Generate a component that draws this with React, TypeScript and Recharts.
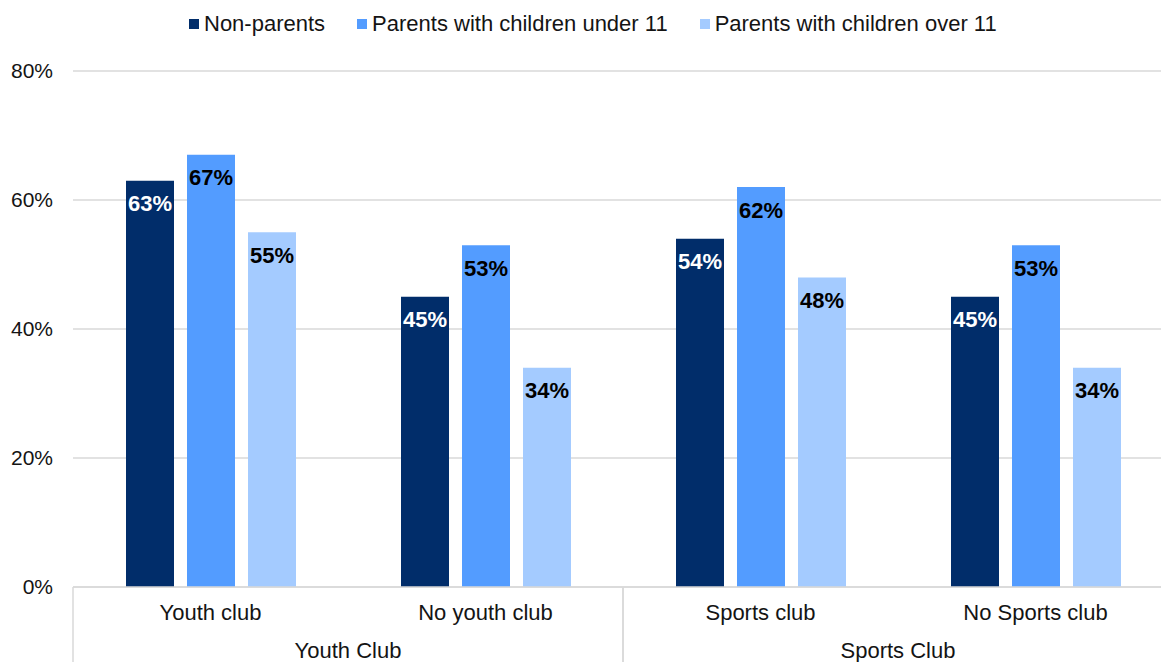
import React from 'react';
import { BarChart, Bar, XAxis, YAxis, CartesianGrid, Legend, LabelList } from 'recharts';

const categories = ['Youth club', 'No youth club', 'Sports club', 'No Sports club'];
const groups = ['Youth Club', 'Youth Club', 'Sports Club', 'Sports Club'];
const nonParents = [63, 45, 54, 45];
const under11 = [67, 53, 62, 53];
const over11 = [55, 34, 48, 34];
const yTicks = [0, 20, 40, 60, 80];

const series = [
    { key: 'nonParents', name: 'Non-parents', color: '#012D6A', labelColor: '#ffffff' },
    { key: 'under11', name: 'Parents with children under 11', color: '#539CFF', labelColor: '#000000' },
    { key: 'over11', name: 'Parents with children over 11', color: '#A4CBFF', labelColor: '#000000' },
];

const data = categories.map((name, i) => ({
    name,
    group: groups[i],
    nonParents: nonParents[i],
    under11: under11[i],
    over11: over11[i],
}));

// the plot runs a little past the right edge of the picture, as in the original
const VIEW_WIDTH = 1161;
const WIDTH = 1173;
const HEIGHT = 662;
const MARGIN = { top: 47, right: 0, bottom: 0, left: 1 };
const Y_WIDTH = 72;
const BAND = (WIDTH - MARGIN.left - MARGIN.right - Y_WIDTH) / categories.length;
const FONT = '"Liberation Sans", Arial, sans-serif';
const TEXT = '#141414';

const CategoryTick = (props: any) => {
    const { x, y, payload, index } = props;
    const left = x - BAND / 2;
    const right = x + BAND / 2;
    const top = y - 8;
    const isGroupStart = index === 0 || groups[index] !== groups[index - 1];
    const isGroupEnd = index === groups.length - 1 || groups[index] !== groups[index + 1];
    return (
        <g>
            <text x={x} y={y + 25} textAnchor="middle" fontSize={22} fill={TEXT} fontFamily={FONT}>
                {payload.value}
            </text>
            {isGroupStart && <line x1={left} y1={top} x2={left} y2={HEIGHT} stroke="#d9d9d9" strokeWidth={1.5} />}
            {isGroupEnd && <line x1={right} y1={top} x2={right} y2={HEIGHT} stroke="#d9d9d9" strokeWidth={1.5} />}
            {isGroupEnd && !isGroupStart && (
                <text x={left} y={y + 63} textAnchor="middle" fontSize={22} fill={TEXT} fontFamily={FONT}>
                    {groups[index]}
                </text>
            )}
        </g>
    );
};

const LegendContent = () => (
    <div style={{ display: 'flex', justifyContent: 'flex-start', paddingLeft: 173, fontFamily: FONT, fontSize: 22, color: TEXT, lineHeight: '24px' }}>
        {series.map((s) => (
            <div key={s.key} style={{ display: 'flex', alignItems: 'center', margin: '0 16px', whiteSpace: 'nowrap' }}>
                <span style={{ width: 10, height: 10, background: s.color, marginRight: 5, display: 'inline-block' }} />
                {s.name}
            </div>
        ))}
    </div>
);

const App = () => {
    return (
        <div style={{ position: 'absolute', top: 0, left: 0, width: VIEW_WIDTH, height: HEIGHT, overflow: 'hidden', background: 'white' }}>
            <BarChart width={WIDTH} height={HEIGHT} data={data} margin={MARGIN} barSize={48} barGap={13}>
                <CartesianGrid vertical={false} stroke="#d9d9d9" strokeWidth={1.5} />
                <XAxis
                    dataKey="name"
                    height={75}
                    axisLine={{ stroke: '#d9d9d9', strokeWidth: 1.5 }}
                    tickLine={false}
                    interval={0}
                    tick={<CategoryTick />}
                />
                <YAxis
                    width={Y_WIDTH}
                    domain={[0, 80]}
                    ticks={yTicks}
                    tickFormatter={(v) => `${v}%`}
                    axisLine={false}
                    tickLine={false}
                    tickMargin={14}
                    tick={{ fontSize: 21, fill: TEXT, fontFamily: FONT }}
                />
                <Legend verticalAlign="top" wrapperStyle={{ top: 12, left: 0, width: VIEW_WIDTH }} content={<LegendContent />} />
                {series.map((s) => (
                    <Bar key={s.key} dataKey={s.key} name={s.name} fill={s.color} isAnimationActive={false}>
                        <LabelList
                            dataKey={s.key}
                            position="insideTop"
                            offset={15}
                            formatter={(v: any) => `${v}%`}
                            style={{ fontSize: 22, fontWeight: 'bold', fill: s.labelColor, fontFamily: FONT }}
                        />
                    </Bar>
                ))}
            </BarChart>
        </div>
    );
};

export default App;
